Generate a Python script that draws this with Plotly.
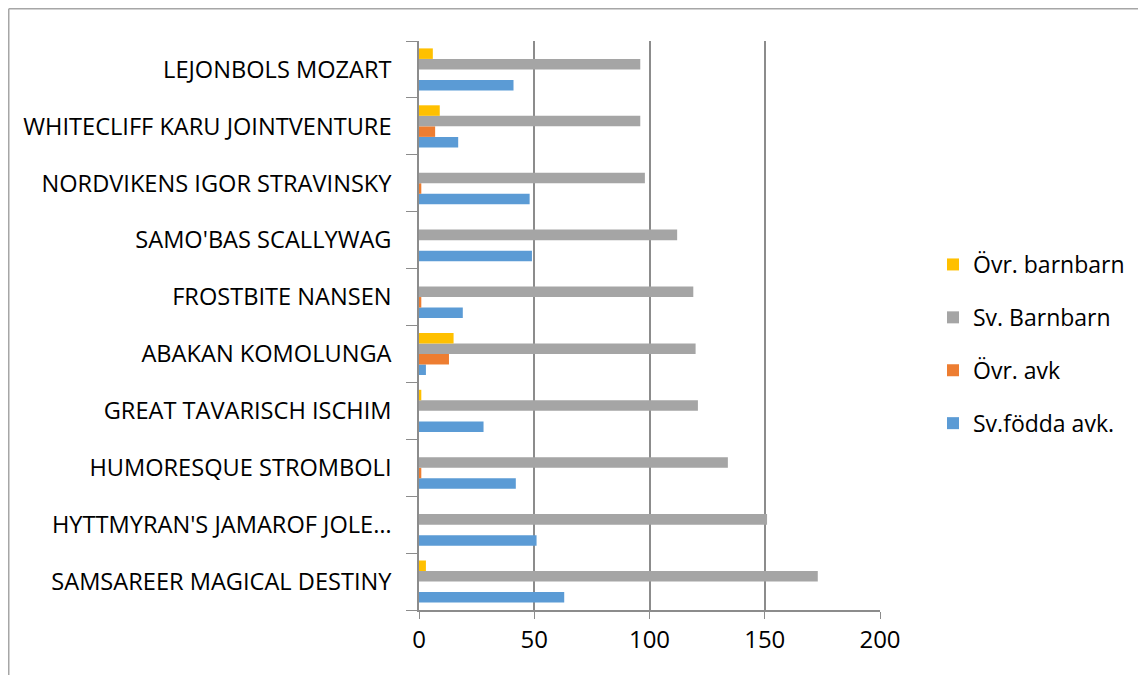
import plotly.graph_objects as go

categories = [
    "SAMSAREER MAGICAL DESTINY",
    "HYTTMYRAN'S JAMAROF JOLE…",
    "HUMORESQUE STROMBOLI",
    "GREAT TAVARISCH ISCHIM",
    "ABAKAN KOMOLUNGA",
    "FROSTBITE NANSEN",
    "SAMO'BAS SCALLYWAG",
    "NORDVIKENS IGOR STRAVINSKY",
    "WHITECLIFF KARU JOINTVENTURE",
    "LEJONBOLS MOZART",
]
sv_fodda_avk = [63, 51, 42, 28, 3, 19, 49, 48, 17, 41]
ovr_avk = [0, 0, 1, 0, 13, 1, 0, 1, 7, 0]
sv_barnbarn = [173, 151, 134, 121, 120, 119, 112, 98, 96, 96]
ovr_barnbarn = [3, 0, 0, 1, 15, 0, 0, 0, 9, 6]

series = [
    ("Sv.födda avk.", sv_fodda_avk, "#5B9BD5", 4),
    ("Övr. avk", ovr_avk, "#ED7D31", 3),
    ("Sv. Barnbarn", sv_barnbarn, "#A5A5A5", 2),
    ("Övr. barnbarn", ovr_barnbarn, "#FFC000", 1),
]

fig = go.Figure()
for name, vals, color, rank in series:
    fig.add_trace(go.Bar(
        y=categories, x=vals, name=name, orientation="h",
        marker=dict(color=color, line=dict(width=0)),
        legendgroup=name, legendrank=rank,
    ))

FONT = "Open Sans, Liberation Sans, sans-serif"
W, H = 1146, 675
L, R, T, B = 411, 274, 33, 73
pw, ph = W - L - R, H - T - B

fig.update_layout(
    width=W, height=H,
    barmode="group", bargap=0.26, bargroupgap=0,
    plot_bgcolor="white", paper_bgcolor="white",
    margin=dict(l=L, r=R, t=T, b=B, autoexpand=False),
    font=dict(family=FONT, color="black"),
    legend=dict(
        traceorder="grouped", tracegroupgap=20,
        x=(925 - L) / pw, y=(H - B - 235) / ph, xanchor="left", yanchor="top",
        font=dict(size=23, family=FONT), itemwidth=30,
        bgcolor="rgba(0,0,0,0)",
    ),
    xaxis=dict(
        range=[0, 200], dtick=50, tick0=0,
        showgrid=True, gridcolor="#8C8C8C", gridwidth=1.5,
        showline=True, linecolor="#8C8C8C", linewidth=1.5,
        ticks="outside", ticklen=7, tickcolor="#8C8C8C",
        tickfont=dict(size=24, family=FONT), zeroline=False,
    ),
    yaxis=dict(
        categoryorder="array", categoryarray=categories,
        showgrid=False, showline=True, linecolor="#8C8C8C", linewidth=1.5,
        ticks="outside", ticklen=11, tickcolor="#8C8C8C", tickson="boundaries",
        tickfont=dict(size=23.6, family=FONT), ticklabelstandoff=21,
    ),
    shapes=[
        dict(type="line", xref="paper", yref="paper",
             x0=(0.75 - L) / pw, x1=(0.75 - L) / pw,
             y0=-B / ph - 0.05, y1=(H - B - 0.75) / ph,
             line=dict(color="#A6A6A6", width=1.5)),
        dict(type="line", xref="paper", yref="paper",
             x0=(0.75 - L) / pw, x1=(W + 10 - L) / pw,
             y0=(H - B - 0.75) / ph, y1=(H - B - 0.75) / ph,
             line=dict(color="#A6A6A6", width=1.5)),
    ],
)

fig.write_html("out.html")
